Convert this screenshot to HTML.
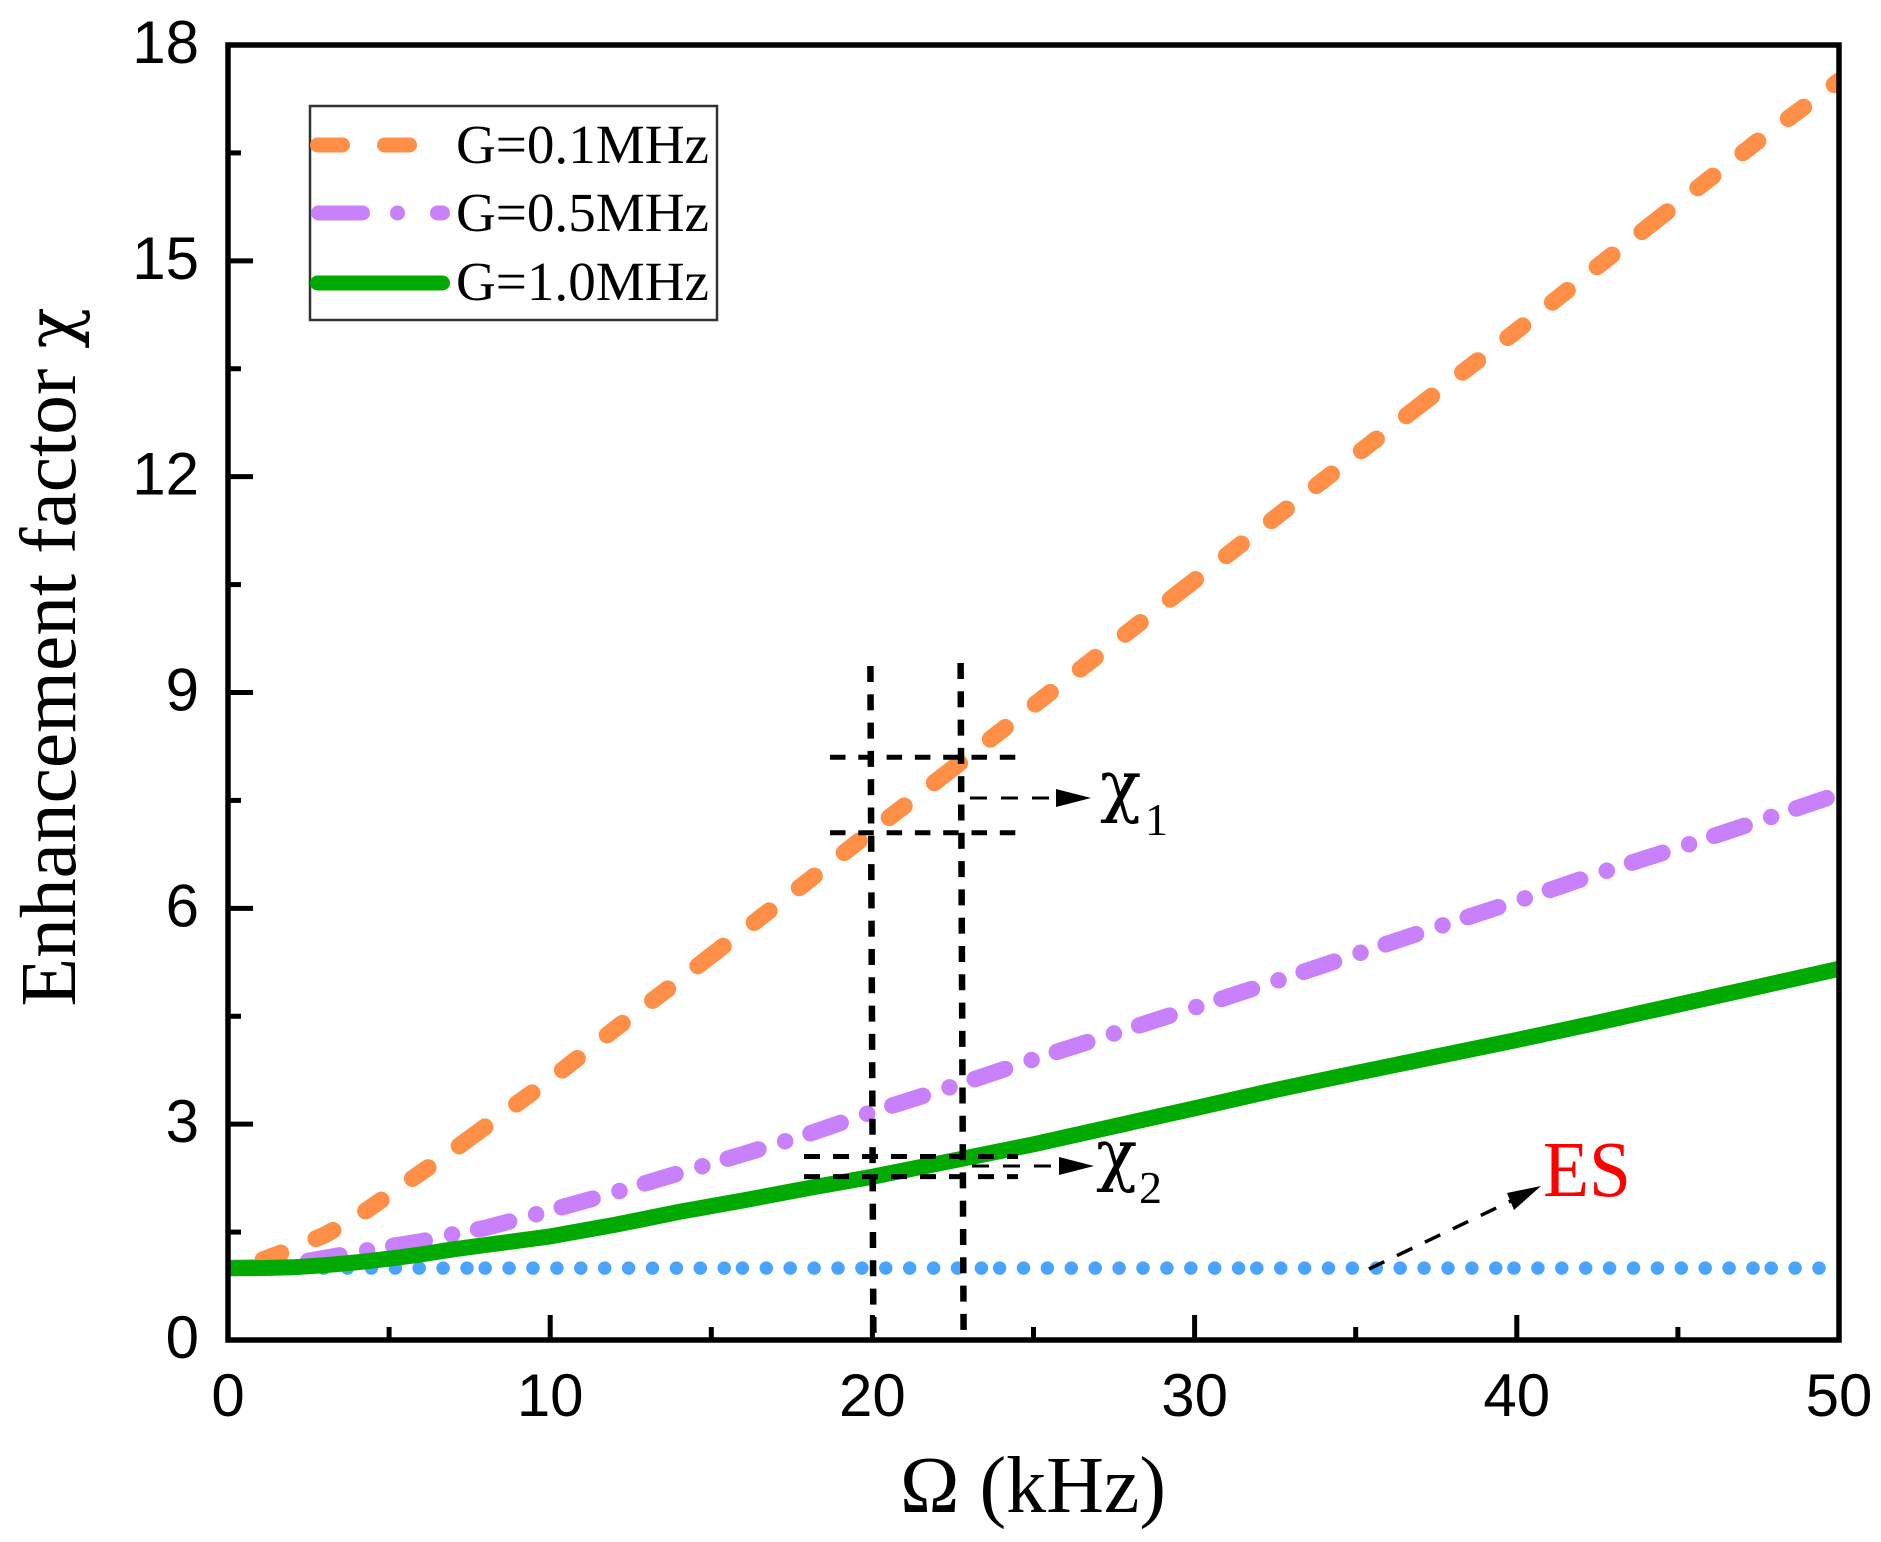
<!DOCTYPE html>
<html lang="en">
<head>
<meta charset="utf-8">
<title>Enhancement factor chart</title>
<style>
html,body{margin:0;padding:0;background:#fff;}
svg{display:block;}
.serif{font-family:"Liberation Serif",serif;}
.sans{font-family:"Liberation Sans",sans-serif;}
.chi{font-family:"DejaVu Serif",serif;}
</style>
</head>
<body>
<svg id="chart" xmlns="http://www.w3.org/2000/svg" width="1881" height="1542" viewBox="0 0 1881 1542">
  <defs>
    <clipPath id="plot-clip"><rect x="228" y="45" width="1611" height="1295"/></clipPath>
  </defs>
  <rect x="0" y="0" width="1881" height="1542" fill="#fff"/>
  <g id="series-low" clip-path="url(#plot-clip)"></g>
  <g id="guides"></g>
  <g id="axes"></g>

  <g>
    <line x1="970" y1="798" x2="1058" y2="798" stroke="#000" stroke-width="3" stroke-dasharray="17 14"/>
    <polygon points="1091,798 1056,789 1056,807" fill="#000"/>
    <text class="chi" x="1100" y="809" font-size="68" fill="#000">χ</text>
    <text class="serif" x="1145" y="835" font-size="46" fill="#000">1</text>
  </g>
  <g>
    <line x1="972" y1="1166" x2="1060" y2="1166" stroke="#000" stroke-width="3" stroke-dasharray="17 14"/>
    <polygon points="1094,1166 1059,1157 1059,1175" fill="#000"/>
    <text class="chi" x="1096" y="1178" font-size="68" fill="#000">χ</text>
    <text class="serif" x="1139" y="1203" font-size="46" fill="#000">2</text>
  </g>
  <g>
    <line x1="1369" y1="1269" x2="1515" y2="1199" stroke="#000" stroke-width="3.5" stroke-dasharray="17 14"/>
    <polygon points="1541,1186 1507,1193 1514,1210" fill="#000"/>
    <text class="serif" x="1543" y="1196" font-size="79" fill="#ff0000" textLength="88" lengthAdjust="spacingAndGlyphs">ES</text>
  </g>

  <g>
    <rect x="310" y="106" width="407" height="214" fill="none" stroke="#333" stroke-width="2.5"/>
    <line x1="317.5" y1="145" x2="450" y2="145" stroke="#ff8f47" stroke-width="15" stroke-linecap="round" stroke-dasharray="25 42"/>
    <line x1="318.5" y1="213" x2="442.5" y2="213" stroke="#c880fb" stroke-width="15" stroke-linecap="round" stroke-dasharray="44 35 0 40 5 50"/>
    <line x1="317.5" y1="283" x2="442.5" y2="283" stroke="#00aa00" stroke-width="15" stroke-linecap="round"/>
    <text class="serif" x="456" y="163" font-size="55" fill="#000" textLength="253" lengthAdjust="spacingAndGlyphs">G=0.1MHz</text>
    <text class="serif" x="456" y="231" font-size="55" fill="#000" textLength="253" lengthAdjust="spacingAndGlyphs">G=0.5MHz</text>
    <text class="serif" x="456" y="300" font-size="55" fill="#000" textLength="253" lengthAdjust="spacingAndGlyphs">G=1.0MHz</text>
  </g>

  <text class="serif" x="1033" y="1512" font-size="80" text-anchor="middle" fill="#000">Ω (kHz)</text>
  <text class="serif" transform="translate(75,657) rotate(-90)" x="0" y="0" font-size="79.5" text-anchor="middle" fill="#000">Enhancement factor <tspan class="chi" font-size="68">χ</tspan></text>
</svg>
<script>
var omega = [0, 1, 2, 3, 4, 5, 6, 7, 8, 10, 12, 14, 16, 18, 20, 22.8, 25, 27.5, 30, 32.5, 35, 37.5, 40, 42.5, 45, 47.5, 50];
var seriesG01 = [1, 1.1, 1.27, 1.46, 1.71, 2.02, 2.33, 2.64, 2.97, 3.62, 4.32, 5.0, 5.69, 6.38, 7.08, 8.05, 8.82, 9.69, 10.56, 11.43, 12.3, 13.17, 14.03, 14.92, 15.8, 16.67, 17.5];
var seriesG05 = [1, 1.01, 1.06, 1.14, 1.22, 1.3, 1.37, 1.47, 1.56, 1.8, 2.05, 2.32, 2.585, 2.86, 3.17, 3.57, 3.9, 4.26, 4.62, 4.985, 5.36, 5.735, 6.1, 6.48, 6.84, 7.21, 7.59];
var seriesG10 = [1, 1, 1.01, 1.04, 1.08, 1.13, 1.19, 1.26, 1.32, 1.44, 1.6, 1.78, 1.94, 2.11, 2.27, 2.52, 2.72, 2.97, 3.22, 3.475, 3.71, 3.94, 4.17, 4.41, 4.66, 4.91, 5.16];
var seriesESOmega = [0, 49.4];
var seriesES = [1, 1];
var xTickValues = [0, 5, 10, 15, 20, 25, 30, 35, 40, 45, 50];
var xTickLabels = ["0", "", "10", "", "20", "", "30", "", "40", "", "50"];
var yTickValues = [0, 1.5, 3, 4.5, 6, 7.5, 9, 10.5, 12, 13.5, 15, 16.5, 18];
var yTickLabels = ["0", "", "3", "", "6", "", "9", "", "12", "", "15", "", "18"];
var guideOmega = [20, 22.8];
var guideChi1 = [8.1, 7.05];
var guideChi2 = [2.55, 2.27];

var NS = "http://www.w3.org/2000/svg";
var plotLeft = 228, plotRight = 1839, plotTop = 45, plotBottom = 1340;
function sx(v) { return plotLeft + (v / 50) * (plotRight - plotLeft); }
function sy(v) { return plotBottom - (v / 18) * (plotBottom - plotTop); }
function mk(tag, parent, props) {
  var el = document.createElementNS(NS, tag);
  for (var k in props) { el.setAttribute(k, props[k]); }
  parent.appendChild(el);
  return el;
}
function pathFrom(xs, ys) {
  var s = "";
  for (var i = 0; i < xs.length; i++) {
    s += (i ? "L" : "M") + sx(xs[i]).toFixed(1) + " " + sy(ys[i]).toFixed(1);
  }
  return s;
}
var low = document.getElementById("series-low");
var guides = document.getElementById("guides");
var axes = document.getElementById("axes");

var dotPattern = "0 23.9 0 23.9 0 23.9 0 23.9 0 23.9 0 23.9 0 23.9 0 23.9 0 23.9 0 23.9 0 18.2";
var esLine = mk("path", low, {d: pathFrom(seriesESOmega, seriesES), fill: "none", stroke: "#4aa3ff", "stroke-width": 13.5, "stroke-linecap": "round", "stroke-dasharray": dotPattern});



var g05Line = mk("path", low, {d: pathFrom(omega, seriesG05), fill: "none", stroke: "#c880fb", "stroke-width": 16.5, "stroke-linecap": "round", "stroke-linejoin": "round", "stroke-dasharray": "32 28 0 26.5", "stroke-dashoffset": 6});



var g01Line = mk("path", low, {d: pathFrom(omega, seriesG01), fill: "none", stroke: "#ff8f47", "stroke-width": 17, "stroke-linecap": "round", "stroke-linejoin": "round", "stroke-dasharray": "32 39 19 38 19 38 19 38 19 38", "stroke-dashoffset": 35});



var g10Line = mk("path", low, {d: pathFrom(omega, seriesG10), fill: "none", stroke: "#00aa00", "stroke-width": 16, "stroke-linejoin": "round"});



guideOmega.forEach(function (v, i) {
  var line = mk("line", guides, {x1: sx(v) - 2, y1: i ? 663 : 666, x2: sx(v) + 1, y2: plotBottom, stroke: "#000", "stroke-width": 6.5, "stroke-dasharray": "16 12.3"});
  
  
});
guideChi1.forEach(function (v) {
  var line = mk("line", guides, {x1: 830, y1: sy(v), x2: 1018, y2: sy(v), stroke: "#000", "stroke-width": 5, "stroke-dasharray": "15.5 12.8"});
  
  
});
guideChi2.forEach(function (v) {
  var line = mk("line", guides, {x1: 804, y1: sy(v), x2: 1018, y2: sy(v), stroke: "#000", "stroke-width": 5, "stroke-dasharray": "16 13"});
  
  
});

var frame = mk("rect", axes, {x: plotLeft, y: plotTop, width: plotRight - plotLeft, height: plotBottom - plotTop, fill: "none", stroke: "#000", "stroke-width": 5.5});



xTickValues.forEach(function (v, i) {
  var major = xTickLabels[i] !== "";
  var tick = mk("line", axes, {x1: sx(v), y1: plotBottom, x2: sx(v), y2: plotBottom - (major ? 25 : 13), stroke: "#000", "stroke-width": 5});
  
  
  if (major) {
    var label = mk("text", axes, {x: sx(v), y: 1416, "text-anchor": "middle", "font-size": 60, fill: "#000", "class": "sans"});
    
    
    label.textContent = xTickLabels[i];
  }
});
yTickValues.forEach(function (v, i) {
  var major = yTickLabels[i] !== "";
  var tick = mk("line", axes, {x1: plotLeft, y1: sy(v), x2: plotLeft + (major ? 25 : 13), y2: sy(v), stroke: "#000", "stroke-width": 5});
  
  
  if (major) {
    var label = mk("text", axes, {x: 199, y: sy(v) + 18, "text-anchor": "end", "font-size": 60, fill: "#000", "class": "sans"});
    
    
    label.textContent = yTickLabels[i];
  }
});
</script>
</body>
</html>
